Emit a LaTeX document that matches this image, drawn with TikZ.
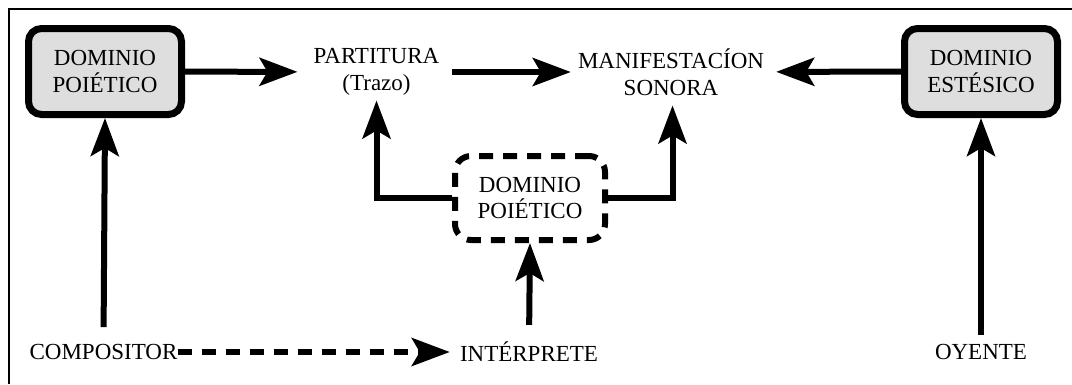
\documentclass[tikz,border=0pt]{standalone}
\usepackage{fontspec}
\setmainfont{Liberation Serif}
\usetikzlibrary{arrows.meta}

\definecolor{boxgray}{HTML}{DEDEDE}

\tikzset{
  lbl/.style={inner sep=0pt, align=center, font=\fontsize{23}{26.5}\selectfont},
  solidbox/.style={lbl, draw, line width=7pt, fill=boxgray, rounded corners=13pt,
                   minimum width=153pt, minimum height=86pt},
  dashbox/.style={lbl, draw, line width=6pt, rounded corners=16pt,
                  dash pattern=on 14pt off 10pt,
                  minimum width=150pt, minimum height=84pt},
  bigtip/.tip={Stealth[length=38pt, width=28pt, inset=8pt]},
  arr/.style={line width=6pt, -bigtip},
  dasharr/.style={arr, dash pattern=on 14pt off 10pt},
}

\begin{document}
\begin{tikzpicture}[x=1pt, y=-1pt]
  \useasboundingbox (0,0) rectangle (1072,384);

  % frame lines, top and left
  \draw[line width=2pt] (9,384) -- (9,9) -- (1072,9);

  % upper row
  \node[solidbox] (lbox) at (105,71.5) {DOMINIO\\POIÉTICO};
  \node[lbl] (partitura) at (376.5,72) {PARTITURA\\(Trazo)};
  \node[lbl] (manif) at (671,72) {MANIFESTACÍON\\SONORA};
  \node[solidbox] (rbox) at (981,71.5) {DOMINIO\\ESTÉSICO};

  % performer domain
  \node[dashbox] (dbox) at (530,198) {DOMINIO\\POIÉTICO};

  % agents
  \node[lbl] (compositor) at (103.5,352) {COMPOSITOR};
  \node[lbl] (interprete) at (529,352) {INTÉRPRETE};
  \node[lbl] (oyente) at (981,352) {OYENTE};

  % horizontal arrows
  \draw[arr, shorten >=16pt] (lbox) -- (partitura);
  \draw[arr, shorten <=13pt, shorten >=7pt] (partitura) -- (manif);
  \draw[arr, shorten >=12pt] (rbox) -- (manif);

  % vertical arrows from the agents
  \draw[arr, shorten <=17pt] (compositor.north) -- (lbox.south);
  \draw[arr, shorten <=17pt] (interprete.north) -- (dbox.south);
  \draw[arr, shorten <=9pt] (oyente.north) -- (rbox.south);

  % performer domain feeds score and sound
  \draw[arr, shorten >=5pt] (dbox.west) -| (partitura.south);
  \draw[arr, shorten >=10pt] (dbox.east) -| ([xshift=1.5pt]manif.south);

  % composer hands over to performer
  \draw[dasharr, shorten >=10pt] (compositor.east) -- (interprete.west);
\end{tikzpicture}
\end{document}
